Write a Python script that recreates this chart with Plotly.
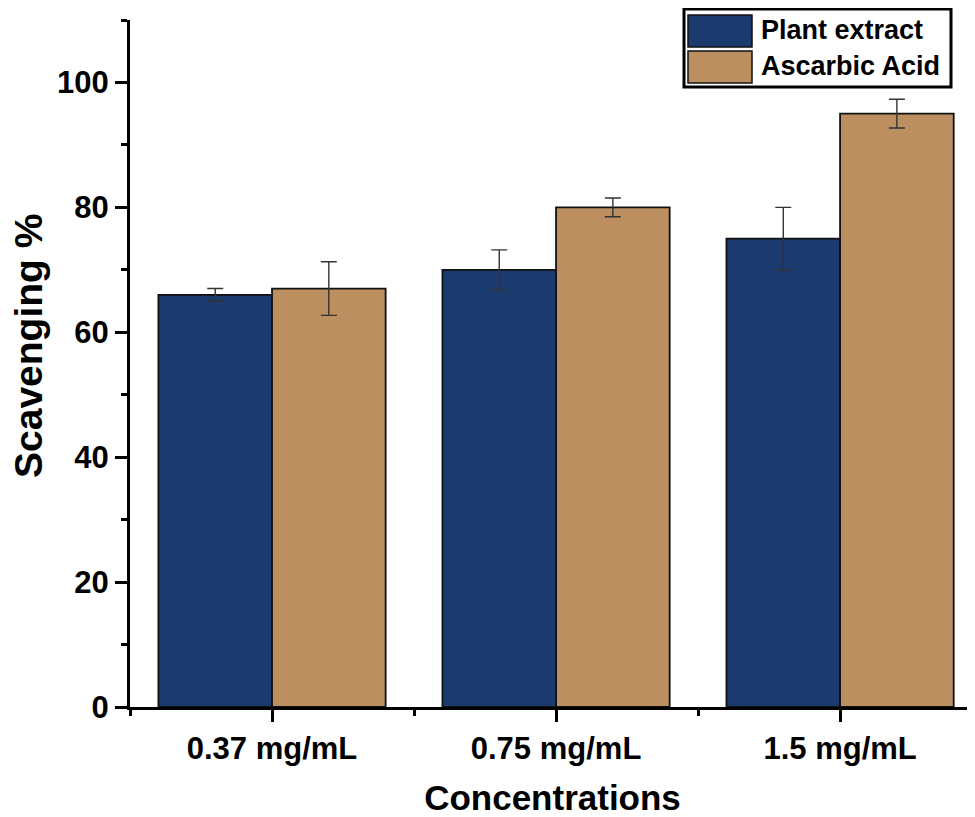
import plotly.graph_objects as go

categories = ["0.37 mg/mL", "0.75 mg/mL", "1.5 mg/mL"]
plant_extract = [66, 70, 75]
plant_err = [1.0, 3.2, 5.0]
ascorbic_acid = [67, 80, 95]
ascorbic_err = [4.3, 1.5, 2.3]
series_names = ["Plant extract", "Ascarbic Acid"]
colors = ["#1b3a6d", "#bb8f5f"]
x_title = "Concentrations"
y_title = "Scavenging %"

xpos = list(range(len(categories)))
font_family = "Liberation Sans, Arial, sans-serif"

fig = go.Figure()
for name, vals, errs, col in [(series_names[0], plant_extract, plant_err, colors[0]),
                              (series_names[1], ascorbic_acid, ascorbic_err, colors[1])]:
    fig.add_trace(go.Bar(
        x=xpos, y=vals, name=name,
        marker=dict(color=col, line=dict(color="#111111", width=1.8)),
        error_y=dict(type="data", array=errs, visible=True, color="#333333", thickness=1.4, width=8),
        showlegend=False,
    ))

axis_common = dict(showline=True, linecolor="black", linewidth=3, ticks="outside",
                   tickcolor="black", tickwidth=3, showgrid=False, zeroline=False,
                   tickfont=dict(family=font_family, size=31, color="black", weight="bold"))

# page has an 8px body margin; figure is sized so the plot area lands at page x 130..975, y 20..707
fig.update_layout(
    width=967, height=809,
    margin=dict(l=122, r=0, t=12, b=110),
    paper_bgcolor="white", plot_bgcolor="white",
    barmode="group", bargap=0.2, bargroupgap=0,
    xaxis=dict(**axis_common, range=[-0.5, 2.475], tickmode="array", tickvals=xpos,
               ticktext=categories, ticklen=12,
               minor=dict(tickmode="array", tickvals=[-0.5, 0.5, 1.5], ticklen=6,
                          tickwidth=3, tickcolor="black", ticks="outside"),
               title=dict(text=x_title, standoff=25,
                          font=dict(family=font_family, size=35, color="black", weight="bold"))),
    yaxis=dict(**axis_common, range=[0, 110], tickmode="linear", tick0=0, dtick=20, ticklen=12,
               minor=dict(dtick=10, ticklen=6, tickwidth=3, tickcolor="black", ticks="outside"),
               title=dict(text="")),
)

# Positions relative to the plot area (page pixels -> paper coords)
pl, pt, pw, ph = 130, 20, 845, 687
def px(x):
    return (x - pl) / pw
def py(y):
    return 1 - (y - pt) / ph

# y-axis title
fig.add_annotation(xref="paper", yref="paper", x=px(28), y=py(346), text=y_title,
                   showarrow=False, textangle=-90, xanchor="center", yanchor="middle",
                   font=dict(family=font_family, size=39, color="black", weight="bold"))

# Custom legend
fig.add_shape(type="rect", xref="paper", yref="paper",
              x0=px(684), x1=px(951), y0=py(87), y1=py(9),
              line=dict(color="black", width=3), fillcolor="white", layer="above")
for i, (name, col) in enumerate(zip(series_names, colors)):
    y_top = 15 + i * 36
    fig.add_shape(type="rect", xref="paper", yref="paper",
                  x0=px(688), x1=px(752), y0=py(y_top + 32), y1=py(y_top),
                  line=dict(color="#111111", width=1.5), fillcolor=col, layer="above")
    fig.add_annotation(xref="paper", yref="paper", x=px(759), y=py(y_top + 15),
                       text=name, showarrow=False, xanchor="left", yanchor="middle",
                       font=dict(family=font_family, size=27, color="black", weight="bold"))

fig.write_html("out.html")
